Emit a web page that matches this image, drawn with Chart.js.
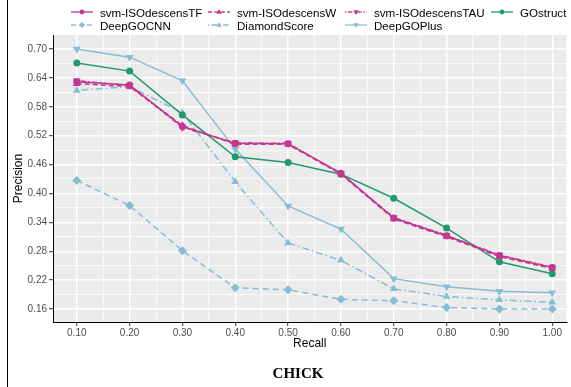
<!DOCTYPE html>
<html>
<head>
<meta charset="utf-8">
<script src="https://cdn.jsdelivr.net/npm/chart.js@4.4.1/dist/chart.umd.min.js"></script>
<style>
    body { margin: 0; background: #fff; }
    #wrap { position: relative; width: 571px; height: 387px; font-family: "Liberation Sans", Arial, sans-serif; }
    #chart { position: absolute; left: 0; top: 0; }
    #edge { position: absolute; left: 7px; top: 0; width: 1px; height: 387px; background: #000; }
    .leg { position: absolute; height: 12px; display: flex; align-items: center; font-size: 11.6px; color: #000; white-space: nowrap; }
    .leg canvas { margin-right: 7px; }
    #caption { position: absolute; left: 248px; top: 364px; width: 100px; text-align: center; font: bold 15px "Liberation Serif", "Times New Roman", serif; color: #000; line-height: 18px; }
</style>
</head>
<body>
<div id="wrap">
    <div id="edge"></div>
    <canvas id="chart" width="571" height="387"></canvas>
    <div id="legend"></div>
    <div id="caption">CHICK</div>
</div>
<script>
// 데이터
const recall = [0.10, 0.20, 0.30, 0.40, 0.50, 0.60, 0.70, 0.80, 0.90, 1.00];
const seriesNames = ['svm-ISOdescensTF', 'svm-ISOdescensW', 'svm-ISOdescensTAU', 'GOstruct',
                     'DeepGOCNN', 'DiamondScore', 'DeepGOPlus'];
const svmTF     = [0.632, 0.625, 0.539, 0.504, 0.503, 0.442, 0.349, 0.312, 0.271, 0.246];
const svmW      = [0.628, 0.622, 0.541, 0.502, 0.502, 0.440, 0.347, 0.310, 0.269, 0.244];
const svmTAU    = [0.634, 0.624, 0.537, 0.505, 0.504, 0.441, 0.350, 0.313, 0.272, 0.247];
const goStruct  = [0.671, 0.654, 0.563, 0.476, 0.464, 0.440, 0.390, 0.328, 0.258, 0.233];
const deepGOCNN = [0.427, 0.375, 0.281, 0.204, 0.200, 0.180, 0.177, 0.163, 0.160, 0.160];
const diamond   = [0.614, 0.622, 0.567, 0.424, 0.297, 0.261, 0.202, 0.186, 0.179, 0.174];
const deepGOPlus = [0.700, 0.683, 0.634, 0.492, 0.374, 0.326, 0.223, 0.206, 0.197, 0.194];

const xTickLabels = ['0.10', '0.20', '0.30', '0.40', '0.50', '0.60', '0.70', '0.80', '0.90', '1.00'];
const xMinorGrid = [0.15, 0.25, 0.35, 0.45, 0.55, 0.65, 0.75, 0.85, 0.95];
const yTickLabels = ['0.16', '0.22', '0.28', '0.34', '0.40', '0.46', '0.52', '0.58', '0.64', '0.70'];
const yMinorGrid = [0.19, 0.25, 0.31, 0.37, 0.43, 0.49, 0.55, 0.61, 0.67];

const MAGENTA = '#C4378F';
const GREEN = '#22996F';
const LBLUE = '#86BDD3';

// 시리즈 스타일
const seriesValues = [svmTF, svmW, svmTAU, goStruct, deepGOCNN, diamond, deepGOPlus];
const styles = [
    { color: MAGENTA, dash: [], shape: 'circle' },
    { color: MAGENTA, dash: [5, 3], shape: 'triangle' },
    { color: MAGENTA, dash: [1.5, 2.5, 5, 2.5], shape: 'triangleDown' },
    { color: GREEN, dash: [], shape: 'circle' },
    { color: LBLUE, dash: [6, 4], shape: 'diamond' },
    { color: LBLUE, dash: [1.5, 3, 7, 3], shape: 'triangle' },
    { color: LBLUE, dash: [], shape: 'triangleDown' }
];

const xMajors = xTickLabels.map(parseFloat);
const yMajors = yTickLabels.map(parseFloat);
const isMajor = (list, v) => list.some(m => Math.abs(m - v) < 1e-6);

function pointStyleOf(shape) {
    if (shape === 'diamond') return 'rectRot';
    if (shape === 'triangleDown') return 'triangle';
    return shape;
}

const datasets = seriesValues.map((vals, i) => ({
    label: seriesNames[i],
    data: vals.map((v, j) => ({ x: recall[j], y: v })),
    borderColor: styles[i].color,
    backgroundColor: styles[i].color,
    borderWidth: 1.5,
    borderDash: styles[i].dash,
    pointStyle: pointStyleOf(styles[i].shape),
    pointRotation: styles[i].shape === 'triangleDown' ? 180 : 0,
    pointRadius: styles[i].shape === 'circle' ? 3.5 : 4.5,
    pointBorderWidth: 0,
    tension: 0
}));

// 패널 배경
const panelBg = {
    id: 'panelBg',
    beforeDraw(chart) {
        const { ctx, chartArea: a } = chart;
        ctx.save();
        ctx.fillStyle = '#EBEBEB';
        ctx.fillRect(a.left, a.top, a.right - a.left, a.bottom - a.top);
        ctx.restore();
    }
};

const tickFont = { family: '"Liberation Sans", Arial, sans-serif', size: 10 };
const titleFont = { family: '"Liberation Sans", Arial, sans-serif', size: 12 };

new Chart(document.getElementById('chart').getContext('2d'), {
    type: 'line',
    data: { datasets },
    plugins: [panelBg],
    options: {
        responsive: false,
        animation: false,
        devicePixelRatio: 1,
        layout: { padding: { top: 35, right: 0, bottom: 35, left: 0 } },
        plugins: { legend: { display: false }, tooltip: { enabled: false } },
        scales: {
            x: {
                type: 'linear',
                min: 0.055,
                max: 1.027,
                afterBuildTicks: s => { s.ticks = xMajors.concat(xMinorGrid).map(v => ({ value: v })); },
                afterFit: s => { s.height = 30; },
                ticks: {
                    autoSkip: false, maxRotation: 0, padding: 1,
                    color: '#4D4D4D', font: tickFont,
                    callback: v => {
                        const k = xMajors.findIndex(m => Math.abs(m - v) < 1e-6);
                        return k >= 0 ? xTickLabels[k] : '';
                    }
                },
                grid: {
                    color: '#FFFFFF',
                    lineWidth: c => isMajor(xMajors, c.tick.value) ? 1.4 : 0.7,
                    tickLength: 4,
                    tickColor: c => isMajor(xMajors, c.tick.value) ? '#333333' : 'rgba(0,0,0,0)',
                    tickWidth: 1
                },
                border: { display: true, color: '#000', width: 1 },
                title: { display: true, text: 'Recall', color: '#000', font: titleFont, padding: { top: 0, bottom: 1 } }
            },
            y: {
                type: 'linear',
                min: 0.133,
                max: 0.729,
                afterBuildTicks: s => { s.ticks = yMajors.concat(yMinorGrid).map(v => ({ value: v })); },
                afterFit: s => { s.width = 53; },
                ticks: {
                    autoSkip: false, padding: 2,
                    color: '#4D4D4D', font: tickFont,
                    callback: v => {
                        const k = yMajors.findIndex(m => Math.abs(m - v) < 1e-6);
                        return k >= 0 ? yTickLabels[k] : '';
                    }
                },
                grid: {
                    color: '#FFFFFF',
                    lineWidth: c => isMajor(yMajors, c.tick.value) ? 1.4 : 0.7,
                    tickLength: 4,
                    tickColor: c => isMajor(yMajors, c.tick.value) ? '#333333' : 'rgba(0,0,0,0)',
                    tickWidth: 1
                },
                border: { display: true, color: '#000', width: 1 },
                title: { display: true, text: 'Precision', color: '#000', font: titleFont, padding: { top: 11, bottom: 0 } }
            }
        }
    }
});

// 범례 (ggplot 스타일 열 정렬)
const legendPos = [
    [71, 6], [208, 6], [345, 6], [491, 6],
    [71, 19], [208, 19], [345, 19]
];

function drawMarker(c, shape, x, y, r) {
    c.beginPath();
    if (shape === 'circle') {
        c.arc(x, y, r * 0.8, 0, Math.PI * 2);
    } else if (shape === 'triangle') {
        c.moveTo(x, y - r); c.lineTo(x + r * 0.9, y + r * 0.6); c.lineTo(x - r * 0.9, y + r * 0.6);
    } else if (shape === 'triangleDown') {
        c.moveTo(x, y + r); c.lineTo(x + r * 0.9, y - r * 0.6); c.lineTo(x - r * 0.9, y - r * 0.6);
    } else if (shape === 'diamond') {
        c.moveTo(x, y - r); c.lineTo(x + r, y); c.lineTo(x, y + r); c.lineTo(x - r, y);
    }
    c.closePath();
    c.fill();
}

const legendBox = document.getElementById('legend');
seriesNames.forEach((name, i) => {
    const item = document.createElement('div');
    item.className = 'leg';
    item.style.left = legendPos[i][0] + 'px';
    item.style.top = legendPos[i][1] + 'px';
    const key = document.createElement('canvas');
    key.width = 22; key.height = 12;
    const c = key.getContext('2d');
    c.strokeStyle = styles[i].color;
    c.fillStyle = styles[i].color;
    c.lineWidth = 1.3;
    c.setLineDash(styles[i].dash.map(d => d * 0.8));
    c.beginPath(); c.moveTo(0, 6); c.lineTo(22, 6); c.stroke();
    c.setLineDash([]);
    drawMarker(c, styles[i].shape, 11, 6, 3);
    const txt = document.createElement('span');
    txt.textContent = name;
    item.appendChild(key);
    item.appendChild(txt);
    legendBox.appendChild(item);
});
</script>
</body>
</html>
